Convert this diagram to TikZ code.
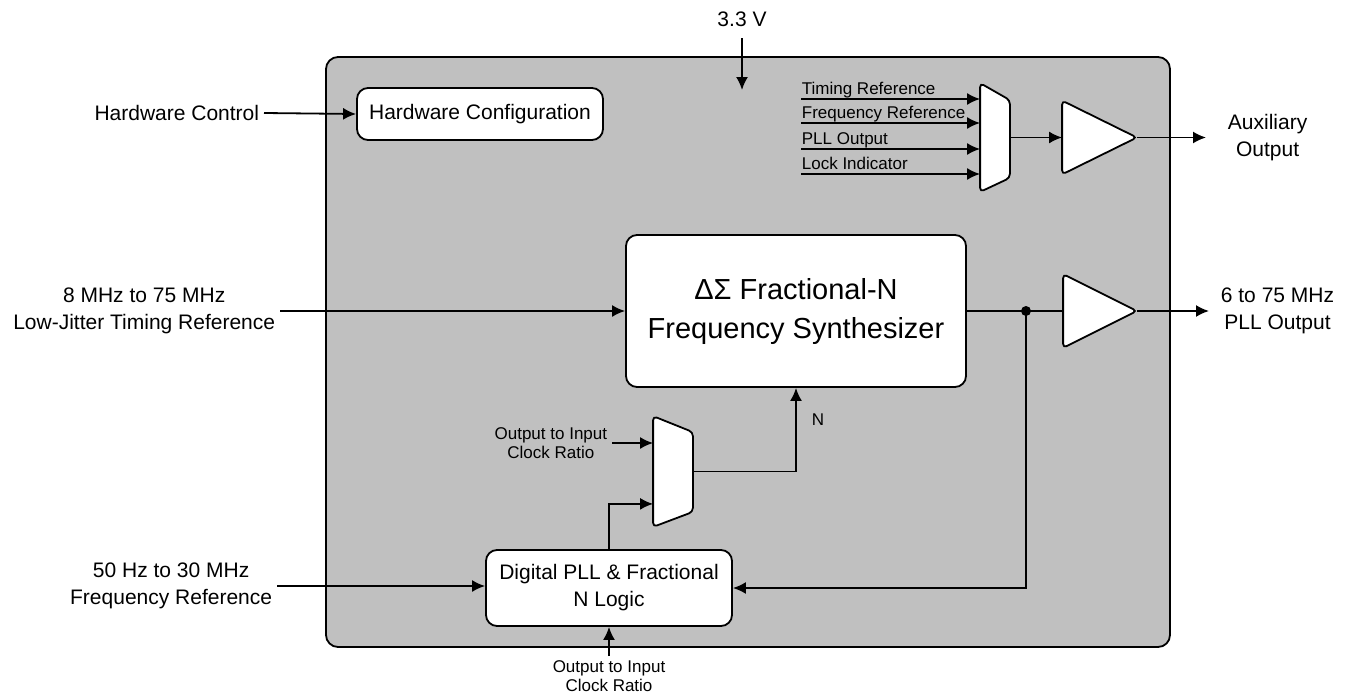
\documentclass[tikz,border=0pt]{standalone}
\usepackage{fontspec}
\setmainfont{Liberation Sans}
\usepackage{xcolor}
\usepackage{tikz}
\usetikzlibrary{calc}
\usetikzlibrary{arrows.meta}
\usetikzlibrary{positioning}
\tikzset{>={Latex[length=13pt,width=12pt]}}
\definecolor{chipgray}{RGB}{192,192,192}
\newcommand{\bigtxt}{\fontsize{21}{27}\selectfont}
\newcommand{\smalltxt}{\fontsize{17}{19}\selectfont}
\newcommand{\hugetxt}{\fontsize{29}{39}\selectfont}
\tikzstyle{blk} = [rectangle, draw=black, fill=white, rounded corners=11pt, align=center]
\tikzstyle{frame} = [rectangle, draw=none, inner sep=0pt]
\tikzstyle{lbl} = [align=center, font=\bigtxt, inner sep=4pt]
\tikzstyle{slbl} = [align=center, font=\smalltxt, inner sep=4pt]
\tikzstyle{part} = [draw=black, fill=white, rounded corners=4pt]

\begin{document}
\begin{tikzpicture}[x=1pt, y=-1pt, line width=1.8pt]
 \useasboundingbox (0,0) rectangle (1346,696);
 \node [rectangle, draw=black, fill=chipgray, rounded corners=12pt, minimum width=844pt, minimum height=590pt] (chip) at (748,352) {};

 % blocks
 \node [blk, minimum width=246pt, minimum height=52pt, font=\bigtxt] (hwcfg) at (480,114) {Hardware Configuration};
 \node [blk, minimum width=340pt, minimum height=152pt, font=\hugetxt] (synth) at (796,311) {ΔΣ Fractional-N\\Frequency Synthesizer};
 \node [blk, minimum width=246pt, minimum height=76pt, font=\bigtxt] (dpll) at (609,588) {Digital PLL \& Fractional\\N Logic};

 % muxes and buffers
 \node [frame, minimum width=28pt, minimum height=107pt] (mux1) at (995,137.5) {};
 \node [frame, minimum width=38pt, minimum height=109pt] (mux2) at (673,471.5) {};
 \node [frame, minimum width=73pt, minimum height=72pt] (buf1) at (1099.5,137.5) {};
 \node [frame, minimum width=72pt, minimum height=72pt] (buf2) at (1100,311) {};
 \draw [part] (mux1.north west) -- ($(mux1.north east)+(0,17)$) -- ($(mux1.south east)+(0,-14)$) -- (mux1.south west) -- cycle;
 \draw [part] (mux2.north west) -- ($(mux2.north east)+(0,16)$) -- ($(mux2.south east)+(0,-15)$) -- (mux2.south west) -- cycle;
 \draw [part] (buf1.north west) -- (buf1.east) -- (buf1.south west) -- cycle;
 \draw [part] (buf2.north west) -- (buf2.east) -- (buf2.south west) -- cycle;

 % supply
 \node [lbl, inner sep=0pt] (v33) at (742,19) {3.3 V};
 \coordinate [below=11pt of v33] (vtop);
 \coordinate (vin) at (742,90);
 \draw [->] (vtop) -- (vin);

 % hardware control
 \node [lbl, anchor=east] (hwctl) at (264,113) {Hardware Control};
 \draw [->] (hwctl.east) -- (hwcfg.west);

 % auxiliary mux inputs
 \coordinate (in1) at (801,99);
 \coordinate (in2) at (801,123);
 \coordinate (in3) at (801,149);
 \coordinate (in4) at (801,174);
 \node [slbl, inner sep=0pt, anchor=base west] (in1lbl) at (801,94) {Timing Reference};
 \node [slbl, inner sep=0pt, anchor=base west] (in2lbl) at (801,118) {Frequency Reference};
 \node [slbl, inner sep=0pt, anchor=base west] (in3lbl) at (801,144) {PLL Output};
 \node [slbl, inner sep=0pt, anchor=base west] (in4lbl) at (801,169) {Lock Indicator};
 \draw [->] (in1) -- (in1 -| mux1.west);
 \draw [->] (in2) -- (in2 -| mux1.west);
 \draw [->] (in3) -- (in3 -| mux1.west);
 \draw [->] (in4) -- (in4 -| mux1.west);
 \draw [->] (mux1.east) -- (buf1.west);

 % auxiliary output
 \coordinate (auxend) at (1206,137.5);
 \draw [->] (buf1.east) -- (auxend);
 \node [lbl, right=17pt of auxend] (auxout) {Auxiliary\\Output};

 % timing reference and synthesizer
 \node [lbl, anchor=east] (tref) at (280,311) {8 MHz to 75 MHz\\Low-Jitter Timing Reference};
 \draw [->] (tref.east) -- (synth.west);
 \coordinate (split) at (1026,311);
 \draw (synth.east) -- (buf2.west);
 \fill (split) circle (5pt);
 \coordinate (pllend) at (1209,311);
 \draw [->] (buf2.east) -- (pllend);
 \node [lbl, right=7pt of pllend] (pllout) {6 to 75 MHz\\PLL Output};

 % digital pll
 \node [lbl, anchor=east] (fref) at (277,586) {50 Hz to 30 MHz\\Frequency Reference};
 \draw [->] (fref.east) -- (fref.east -| dpll.west);
 \draw [->] (split) |- (dpll.east);
 \node [slbl, anchor=north] (ratio2) at (609,656) {Output to Input\\Clock Ratio};
 \draw [->] (ratio2.north) -- (dpll.south);

 % divider select
 \node [slbl, anchor=east] (ratio1) at (612,443) {Output to Input\\Clock Ratio};
 \draw [->] (ratio1.east) -- (ratio1.east -| mux2.west);
 \draw [->] (dpll.north) |- ($(mux2.south west)+(0,-23)$);
 \draw [->] (mux2.east) -| (synth.south);
 \node [slbl, inner sep=0pt] (nlbl) at (818,420) {N};
\end{tikzpicture}
\end{document}
